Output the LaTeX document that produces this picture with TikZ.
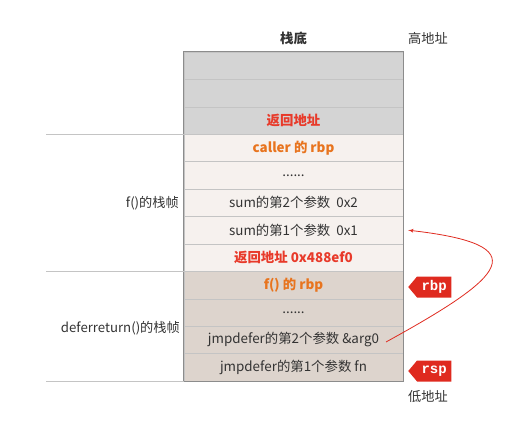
\documentclass[tikz,border=0pt]{standalone}
\usepackage{fontspec}
\setmainfont{Noto Sans CJK SC}
\newfontfamily\tagfont{Liberation Mono}
\usetikzlibrary{arrows,shapes.symbols}
\definecolor{hifill}{HTML}{D4D4D4}
\definecolor{midfill}{HTML}{F6F1EE}
\definecolor{lofill}{HTML}{DDD4CD}
\definecolor{cellline}{HTML}{C4C4C4}
\definecolor{boxline}{HTML}{8C8C8C}
\definecolor{textgray}{HTML}{333333}
\definecolor{addrred}{HTML}{E83A2A}
\definecolor{rbporange}{HTML}{E8741E}
\definecolor{tagred}{HTML}{DF2A1F}
\begin{document}
\begin{tikzpicture}[x=1pt,y=-1pt]
\tikzset{cell/.style = {draw=cellline, minimum width=219pt, minimum height=27.42pt, inner sep=0pt,
  text=textgray, font=\fontsize{13.4}{15}\selectfont}}
\tikzset{hicell/.style = {cell, fill=hifill}}
\tikzset{midcell/.style = {cell, fill=midfill}}
\tikzset{locell/.style = {cell, fill=lofill}}
\tikzset{label/.style = {text=textgray, font=\fontsize{13.2}{15}\selectfont, inner sep=0pt}}
\tikzset{redtxt/.style = {text=addrred, font=\fontsize{13.4}{15}\selectfont\bfseries}}
\tikzset{orangetxt/.style = {text=rbporange, font=\fontsize{13.4}{15}\selectfont\bfseries}}
\tikzset{frameline/.style = {draw=cellline, line width=0.8pt}}
\tikzset{tag/.style = {shape=signal, signal to=west, signal pointer angle=100, fill=tagred, text=white,
  font=\tagfont\bfseries\fontsize{14}{15}\selectfont, inner xsep=4.5pt, inner ysep=3.5pt, minimum height=21pt, anchor=west}}
\tikzset{edge/.style = {->, > = latex', draw=tagred, line width=0.8pt}}
\useasboundingbox (0,0) rectangle (512,423);
% stack cells
\node[hicell] (c1) at (293.5,65.7) {};
\node[hicell] (c2) at (293.5,93.1) {};
\node[hicell, redtxt] (c3) at (293.5,120.5) {返回地址};
\node[midcell, orangetxt] (c4) at (293.5,148.0) {caller 的 rbp};
\node[midcell] (c5) at (293.5,175.4) {......};
\node[midcell] (c6) at (293.5,202.8) {sum的第2个参数\ \ 0x2};
\node[midcell] (c7) at (293.5,230.2) {sum的第1个参数\ \ 0x1};
\node[midcell, redtxt] (c8) at (293.5,257.6) {返回地址 0x488ef0};
\node[locell, orangetxt] (c9) at (293.5,285.1) {f() 的 rbp};
\node[locell] (c10) at (293.5,312.5) {......};
\node[locell] (c11) at (293.5,339.9) {jmpdefer的第2个参数 \&arg0};
\node[locell] (c12) at (293.5,367.3) {jmpdefer的第1个参数 fn};
\draw[boxline, line width=0.9pt] (c1.north west) rectangle (c12.south east);
% labels
\node[label, font=\fontsize{13.4}{15}\selectfont\bfseries] (bottom) at (293.5,38) {栈底};
\node[label] (high) at (428,38) {高地址};
\node[label] (low) at (428,397) {低地址};
\node[label, anchor=east] (fframe) at (179,203) {f()的栈帧};
\node[label, anchor=east] (dframe) at (180,328) {deferreturn()的栈帧};
% frame lines
\draw[frameline] (c4.north west) -- ++(-138,0);
\draw[frameline] (c9.north west) -- ++(-138,0);
\draw[frameline] (c12.south west) -- ++(-138,0);
% registers
\node[tag] (rbp) at (408,287) {rbp};
\node[tag] (rsp) at (408,371) {rsp};
% return pointer
\coordinate (argend) at (386,342);
\draw[edge] (argend) .. controls (506,276) and (538,245) .. ([xshift=5pt]c7.east);
\end{tikzpicture}
\end{document}
